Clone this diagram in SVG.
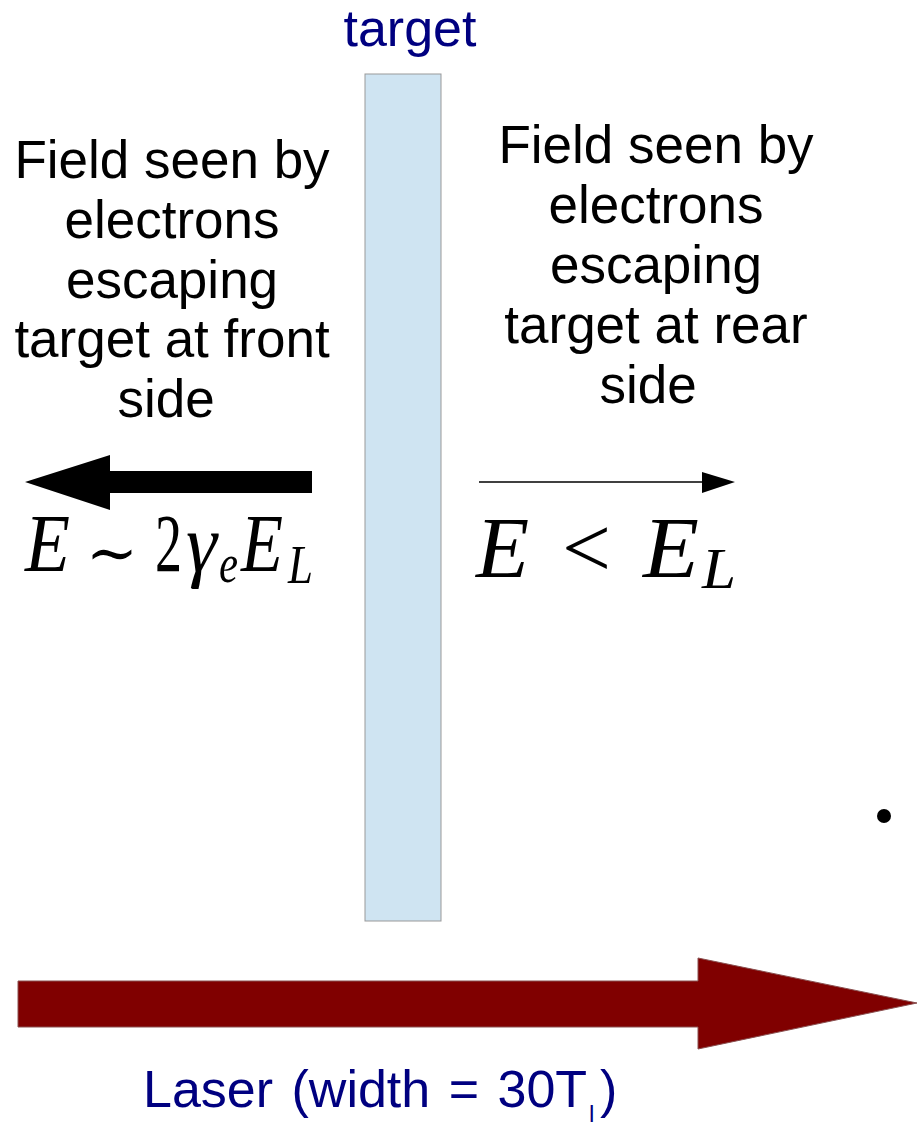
<svg xmlns="http://www.w3.org/2000/svg" width="917" height="1126" viewBox="0 0 917 1126">
<style>
.lbl{font-family:"Liberation Sans",Arial,sans-serif;font-size:53px;fill:#000;text-anchor:middle}
.blue{font-family:"Liberation Sans",Arial,sans-serif;fill:#000080}
.m{font-family:"Liberation Serif","DejaVu Serif",serif;fill:#000}
.i{font-style:italic}
</style>
<rect width="917" height="1126" fill="#fff"/>
<g id="target">
<rect x="365" y="74" width="76" height="847" fill="#cfe4f2" stroke="#999" stroke-width="1"/>
<text class="blue" x="410" y="46" font-size="52" text-anchor="middle">target</text>
</g>
<g id="front-label">
<text class="lbl" x="172" y="178">Field seen by</text>
<text class="lbl" x="172" y="238">electrons</text>
<text class="lbl" x="172" y="298">escaping</text>
<text class="lbl" x="172" y="357">target at front</text>
<text class="lbl" x="166" y="417">side</text>
</g>
<g id="rear-label">
<text class="lbl" x="656" y="163">Field seen by</text>
<text class="lbl" x="656" y="223">electrons</text>
<text class="lbl" x="656" y="283">escaping</text>
<text class="lbl" x="656" y="343">target at rear</text>
<text class="lbl" x="648" y="403">side</text>
</g>
<g id="connectors">
<polygon points="312,471 110,471 110,455 25,482 110,510 110,493 312,493" fill="#000"/>
<line x1="479" y1="482" x2="704" y2="482" stroke="#000" stroke-width="1.5"/>
<polygon points="702,472 735,482 702,493" fill="#000"/>
<polygon points="18,981 698,981 698,958 917,1003 698,1049 698,1027 18,1027" fill="#800000" stroke="#8a5050" stroke-width="1"/>
</g>
<g id="front-formula">
<text class="m i" x="25" y="571" font-size="82" textLength="45" lengthAdjust="spacingAndGlyphs">E</text>
<text x="86" y="574" font-family="'DejaVu Serif',serif" font-size="62" fill="#000">∼</text>
<text class="m" x="155" y="571" font-size="82" textLength="27" lengthAdjust="spacingAndGlyphs">2</text>
<text class="m i" x="186" y="571" font-size="82" textLength="31" lengthAdjust="spacingAndGlyphs">γ</text>
<text class="m i" x="219" y="582" font-size="54" textLength="19" lengthAdjust="spacingAndGlyphs">e</text>
<text class="m i" x="241" y="571" font-size="82" textLength="42" lengthAdjust="spacingAndGlyphs">E</text>
<text class="m i" x="288" y="583" font-size="54" textLength="25" lengthAdjust="spacingAndGlyphs">L</text>
</g>
<g id="rear-formula">
<text class="m i" x="476" y="577" font-size="87">E</text>
<text class="m" x="562" y="577" font-size="87">&lt;</text>
<text class="m i" x="643" y="577" font-size="87" textLength="56" lengthAdjust="spacingAndGlyphs">E</text>
<text class="m i" x="702" y="588" font-size="58" textLength="34" lengthAdjust="spacingAndGlyphs">L</text>
</g>
<g id="dot"><circle cx="884" cy="816" r="7" fill="#000"/></g>
<g id="laser-label">
<text class="blue" x="143" y="1107" font-size="52" word-spacing="4">Laser (width = 30T</text>
<text class="blue" x="589" y="1122" font-size="24">l</text>
<text class="blue" x="600" y="1107" font-size="52">)</text>
</g>
</svg>
